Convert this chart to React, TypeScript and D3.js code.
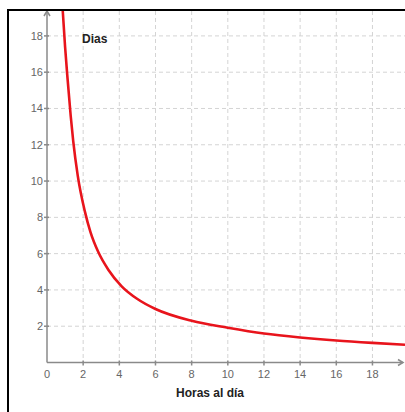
import React from 'react';
import * as d3 from 'd3';

// values
const horas = [0.87, 1.0, 1.14, 1.31, 1.45, 1.7, 2.1, 2.4, 2.83, 3.4, 4.13, 5, 6, 8, 10, 12, 14, 16, 18, 19.8];
const dias = [19.4, 17.4, 15.6, 13.6, 12.2, 10.3, 8.3, 7.2, 6.1, 5.1, 4.2, 3.5, 2.95, 2.3, 1.92, 1.6, 1.38, 1.21, 1.08, 0.98];
const xTicks = [0, 2, 4, 6, 8, 10, 12, 14, 16, 18];
const yTicks = [2, 4, 6, 8, 10, 12, 14, 16, 18];
const gridX = [2, 4, 6, 8, 10, 12, 14, 16, 18];
const gridY = [2, 4, 6, 8, 10, 12, 14, 16, 18];

const W = 405;
const H = 412;

export default function App() {
  const x = d3.scaleLinear().domain([0, 19.8]).range([47, 405]);
  const y = d3.scaleLinear().domain([0, 19.4]).range([362.5, 10.5]);

  const pts = horas.map((h, i) => [h, dias[i]] as [number, number]);
  const line = d3
    .line<[number, number]>()
    .x((d) => x(d[0]))
    .y((d) => y(d[1]))
    .curve(d3.curveMonotoneX);

  const axisColor = '#8a8a8a';
  const gridColor = '#d4d4d4';
  const labelColor = '#666';
  const font = 'Liberation Sans, Arial, sans-serif';

  return (
    <div style={{ position: 'fixed', left: 0, top: 0 }}>
      <svg width={W} height={H} style={{ display: 'block', background: '#fff' }}>
        <defs>
          <clipPath id="plot">
            <rect x={x(0)} y={10} width={W - x(0)} height={y(0) - 10} />
          </clipPath>
        </defs>

        {/* grid */}
        <g stroke={gridColor} strokeWidth={1} strokeDasharray="4,3">
          {gridX.map((v) => (
            <line key={'gx' + v} x1={x(v)} x2={x(v)} y1={11} y2={y(0)} />
          ))}
          {gridY.map((v) => (
            <line key={'gy' + v} x1={x(0)} x2={W} y1={y(v)} y2={y(v)} />
          ))}
        </g>

        {/* axes */}
        <g stroke={axisColor} strokeWidth={1.5} fill="none">
          <line x1={x(0)} x2={x(0)} y1={y(0)} y2={11} />
          <line x1={x(0)} x2={403} y1={y(0)} y2={y(0)} />
          <path d={`M${x(0) - 3},${16} L${x(0)},${11} L${x(0) + 3},${16}`} />
          <path d={`M${398},${y(0) - 3} L${403},${y(0)} L${398},${y(0) + 3}`} />
          {xTicks.filter((v) => v > 0).map((v) => (
            <line key={'tx' + v} x1={x(v)} x2={x(v)} y1={y(0) - 2} y2={y(0) + 3} />
          ))}
          {yTicks.map((v) => (
            <line key={'ty' + v} x1={x(0) - 3} x2={x(0) + 2} y1={y(v)} y2={y(v)} />
          ))}
        </g>

        {/* tick labels */}
        <g fill={labelColor} fontFamily={font} fontSize={11}>
          {xTicks.map((v) => (
            <text key={'lx' + v} x={x(v)} y={y(0) + 15} textAnchor="middle">
              {v}
            </text>
          ))}
          {yTicks.map((v) => (
            <text key={'ly' + v} x={x(0) - 4} y={y(v) + 4} textAnchor="end">
              {v}
            </text>
          ))}
        </g>

        {/* curve */}
        <path
          d={line(pts) || ''}
          fill="none"
          stroke="#e8141c"
          strokeWidth={2.6}
          clipPath="url(#plot)"
        />

        {/* titles */}
        <text x={82} y={43} fontFamily={font} fontSize={12} fontWeight="bold" fill="#222">
          Dias
        </text>
        <text x={210} y={397} fontFamily={font} fontSize={12} fontWeight="bold" fill="#222" textAnchor="middle">
          Horas al día
        </text>

        {/* frame */}
        <g stroke="#000" strokeWidth={2} fill="none">
          <line x1={7} x2={W} y1={10} y2={10} />
          <line x1={8} x2={8} y1={9} y2={H} />
        </g>
      </svg>
    </div>
  );
}
